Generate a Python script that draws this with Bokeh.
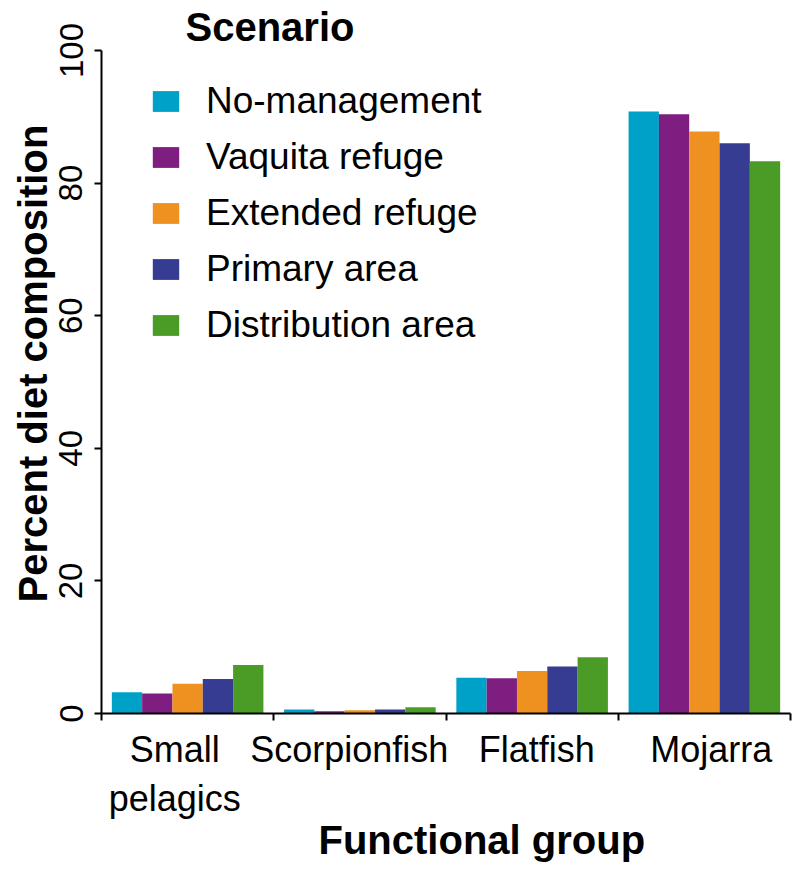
import numpy as np
from bokeh.plotting import figure
from bokeh.models import (Range1d, FixedTicker, LinearAxis, Legend, LegendItem,
                          Title, ColumnDataSource)
from bokeh.transform import dodge
from bokeh.embed import file_html
from bokeh.resources import INLINE

groups = ["Small\npelagics", "Scorpionfish", "Flatfish", "Mojarra"]
scenarios = ["No-management", "Vaquita refuge", "Extended refuge",
             "Primary area", "Distribution area"]
colors = ["#00A1C8", "#7E1E80", "#EE9121", "#363C91", "#4A9C27"]
no_management = [3.2, 0.6, 5.4, 90.8]
vaquita_refuge = [3.0, 0.35, 5.3, 90.4]
extended_refuge = [4.5, 0.5, 6.4, 87.8]
primary_area = [5.2, 0.6, 7.1, 86.0]
distribution_area = [7.3, 0.95, 8.5, 83.3]
y_ticks = [0, 20, 40, 60, 80, 100]
# where the group names sit along the x axis (as in the original figure)
label_positions = [0.425, 1.438, 2.527, 3.540]

series = [no_management, vaquita_refuge, extended_refuge, primary_area, distribution_area]

FONT = "Liberation Sans"
n = len(groups)
centers = [i + 0.5 for i in range(n)]
bar_w = 0.176

data = {"x": centers}
for s, vals in zip(scenarios, series):
    data[s] = vals
src = ColumnDataSource(data)

p = figure(width=796, height=866, x_range=Range1d(0, n), y_range=Range1d(0, 100),
           output_backend="svg", toolbar_location=None,
           x_axis_type=None, y_axis_type=None,
           min_border_left=101, min_border_right=6, min_border_top=50, min_border_bottom=153)
p.outline_line_color = None
p.background_fill_color = "white"
p.border_fill_color = "white"

renderers = []
for j, (s, c) in enumerate(zip(scenarios, colors)):
    r = p.vbar(x=dodge("x", (j - 2) * bar_w), top=s, width=bar_w, bottom=0,
               source=src, fill_color=c, line_color=None)
    renderers.append(r)

# y axis
yax = LinearAxis(ticker=FixedTicker(ticks=y_ticks))
yax.major_label_orientation = "vertical"
yax.major_label_text_font = FONT
yax.major_label_text_font_size = "33px"
yax.major_label_text_color = "black"
yax.major_label_standoff = 12
yax.major_tick_out = 7
yax.major_tick_in = 0
yax.minor_tick_line_color = None
yax.axis_line_width = 2
yax.major_tick_line_width = 2
p.add_layout(yax, "left")

p.add_layout(Title(text="Percent diet composition", align="left", offset=111,
                   vertical_align="top",
                   text_font=FONT, text_font_size="40px", text_font_style="bold",
                   text_color="black", standoff=0), "left")

# x axis: boundary ticks
xax = LinearAxis(ticker=FixedTicker(ticks=list(range(n + 1))))
xax.major_label_overrides = {i: "" for i in range(n + 1)}
xax.major_label_text_font_size = "0px"
xax.major_label_standoff = 0
xax.major_tick_out = 7
xax.major_tick_in = 0
xax.minor_tick_line_color = None
xax.axis_line_width = 2
xax.major_tick_line_width = 2
p.add_layout(xax, "below")

# x axis: group names
cax = LinearAxis(ticker=FixedTicker(ticks=label_positions))
cax.major_label_overrides = {c: g for c, g in zip(label_positions, groups)}
cax.axis_line_color = None
cax.major_tick_line_color = None
cax.minor_tick_line_color = None
cax.major_label_text_font = FONT
cax.major_label_text_font_size = "36px"
cax.major_label_text_color = "black"
cax.major_label_standoff = 2
p.add_layout(cax, "below")

p.add_layout(Title(text="Functional group", align="left", offset=217,
                   text_font=FONT, text_font_size="40px", text_font_style="bold",
                   text_color="black", standoff=-12), "below")

legend = Legend(items=[LegendItem(label=s, renderers=[r]) for s, r in zip(scenarios, renderers)],
                location=(48, 367))
legend.border_line_color = None
legend.background_fill_alpha = 0
legend.label_text_font = FONT
legend.label_text_font_size = "37px"
legend.label_text_color = "black"
legend.glyph_width = 33
legend.glyph_height = 26
legend.label_standoff = 24
legend.label_height = 42
legend.spacing = 14
legend.padding = 0
legend.margin = 0
p.add_layout(legend)

p.add_layout(Title(text="Scenario", align="left", offset=84, text_font=FONT,
                   vertical_align="top",
                   text_font_size="40px", text_font_style="bold",
                   text_color="black", standoff=0), "above")

open("out.html", "w").write(file_html(p, INLINE))
